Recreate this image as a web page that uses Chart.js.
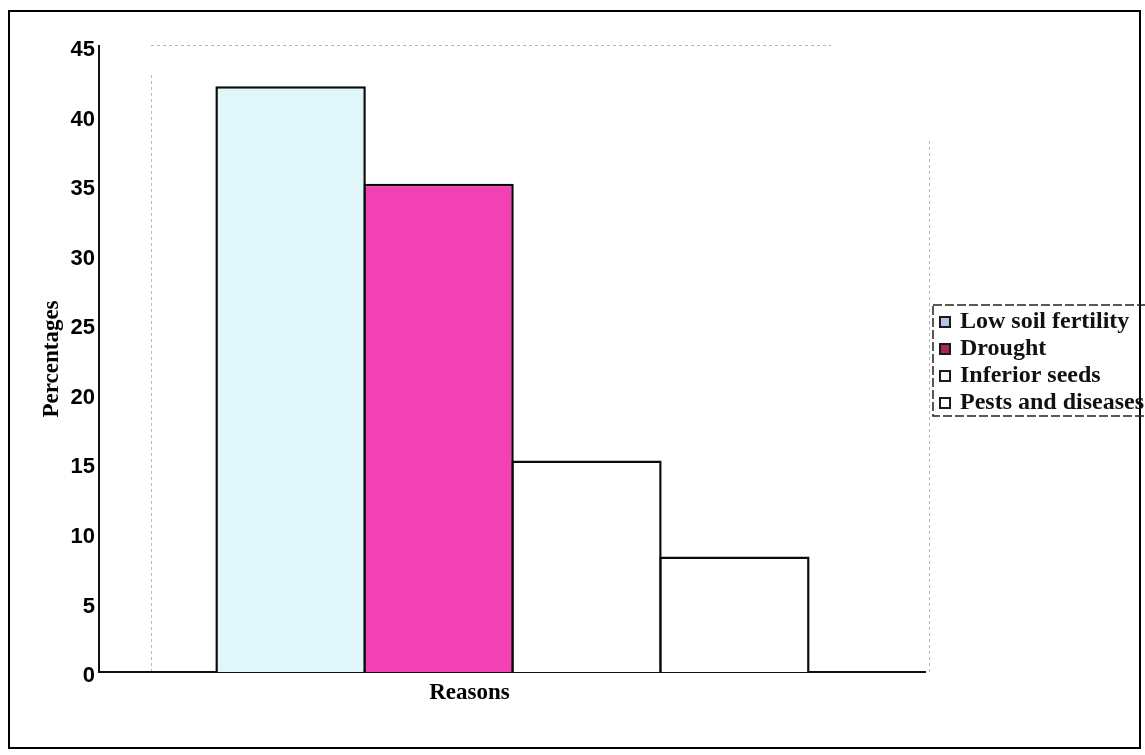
<!DOCTYPE html>
<html>
<head>
<meta charset="utf-8">
<script src="https://cdn.jsdelivr.net/npm/chart.js@4.4.1/dist/chart.umd.min.js"></script>
<style>
  html, body { margin: 0; padding: 0; background: #fff; }
  #wrap { width: 1145px; height: 755px; }
</style>
</head>
<body>
<div id="wrap"><canvas id="c" width="1145" height="755"></canvas></div>
<script>
// Reasons for low yields, percentage of respondents
const categories = ['Reasons'];
const seriesNames = ['Low soil fertility', 'Drought', 'Inferior seeds', 'Pests and diseases'];
const lowSoilFertility = [42.1];
const drought = [35.1];
const inferiorSeeds = [15.2];
const pestsAndDiseases = [8.3];
const yTicks = [0, 5, 10, 15, 20, 25, 30, 35, 40, 45];

const barFills = ['#e1f6f8', '#f241b2', '#ffffff', '#ffffff'];
const swatchFills = ['#b7c3e6', '#a8284f', '#ffffff', '#ffffff'];

const serif = "'Liberation Serif', 'Times New Roman', serif";
const sans = "'Liberation Sans', Arial, sans-serif";

// small square legend swatches
const swatches = swatchFills.map(fill => {
  const cv = document.createElement('canvas');
  cv.width = 12; cv.height = 12;
  const g = cv.getContext('2d');
  g.fillStyle = '#1a1a1a';
  g.fillRect(0, 0, 12, 12);
  g.fillStyle = fill;
  g.fillRect(2, 2, 8, 8);
  return cv;
});

const framePlugin = {
  id: 'frame',
  afterLayout(chart) {
    // park the legend block beside the plot
    const lg = chart.legend;
    const w = lg.width;
    lg.left = 939; lg.right = 939 + w;
    lg.top = 254; lg.bottom = 471;
  },
  beforeDraw(chart) {
    const ctx = chart.ctx;
    const a = chart.chartArea;
    ctx.save();
    ctx.fillStyle = '#fff';
    ctx.fillRect(0, 0, chart.width, chart.height);
    ctx.strokeStyle = '#000';
    ctx.lineWidth = 2;
    ctx.strokeRect(9, 11, 1131, 737);
    // faint dotted plot frame
    ctx.strokeStyle = '#b8b8b8';
    ctx.lineWidth = 1;
    ctx.setLineDash([3, 3]);
    ctx.beginPath();
    ctx.moveTo(a.left + 52.5, a.bottom); ctx.lineTo(a.left + 52.5, a.top + 28);
    ctx.moveTo(a.left + 52, a.top - 0.5); ctx.lineTo(a.right - 95, a.top - 0.5);
    ctx.moveTo(a.right + 3.5, a.top + 95); ctx.lineTo(a.right + 3.5, a.bottom);
    ctx.stroke();
    ctx.restore();
  },
  afterDraw(chart) {
    const ctx = chart.ctx;
    ctx.save();
    ctx.strokeStyle = '#222';
    ctx.lineWidth = 1.5;
    ctx.setLineDash([9, 3]);
    ctx.strokeRect(933, 305, 230, 111);
    ctx.restore();
  }
};

new Chart(document.getElementById('c'), {
  type: 'bar',
  data: {
    labels: categories,
    datasets: [
      { label: seriesNames[0], data: lowSoilFertility, backgroundColor: barFills[0] },
      { label: seriesNames[1], data: drought, backgroundColor: barFills[1] },
      { label: seriesNames[2], data: inferiorSeeds, backgroundColor: barFills[2] },
      { label: seriesNames[3], data: pestsAndDiseases, backgroundColor: barFills[3] }
    ]
  },
  options: {
    responsive: false,
    animation: false,
    devicePixelRatio: 1,
    layout: { padding: { top: 46, right: 4, bottom: 0, left: 0 } },
    datasets: {
      bar: {
        borderColor: '#0a0a0a',
        borderWidth: 2.5,
        barPercentage: 1.017,
        categoryPercentage: 0.7155
      }
    },
    plugins: {
      tooltip: { enabled: false },
      legend: {
        position: 'right',
        labels: {
          usePointStyle: true,
          pointStyleWidth: 6,
          padding: 3,
          color: '#111',
          font: { family: serif, size: 24, weight: 'bold' },
          generateLabels(chart) {
            const items = Chart.defaults.plugins.legend.labels.generateLabels(chart);
            items.forEach((it, i) => { it.pointStyle = swatches[i]; });
            return items;
          }
        }
      }
    },
    scales: {
      x: {
        grid: { display: false, drawTicks: false },
        border: { display: true, color: '#111', width: 2 },
        ticks: {
          color: '#000',
          padding: 7,
          labelOffset: -43,
          font: { family: serif, size: 23, weight: 'bold' }
        },
        afterFit(scale) { scale.height = 83; }
      },
      y: {
        min: 0,
        max: 45,
        afterBuildTicks(scale) { scale.ticks = yTicks.map(v => ({ value: v })); },
        grid: { display: false, drawTicks: false },
        border: { display: true, color: '#111', width: 2 },
        ticks: {
          color: '#000',
          padding: 4,
          labelOffset: 4,
          font: { family: sans, size: 22, weight: 'bold' }
        },
        title: {
          display: true,
          text: 'Percentages',
          color: '#000',
          padding: { top: 38, bottom: 0 },
          font: { family: serif, size: 23, weight: 'bold' }
        },
        afterFit(scale) { scale.width = 99; }
      }
    }
  },
  plugins: [framePlugin]
});
</script>
</body>
</html>
